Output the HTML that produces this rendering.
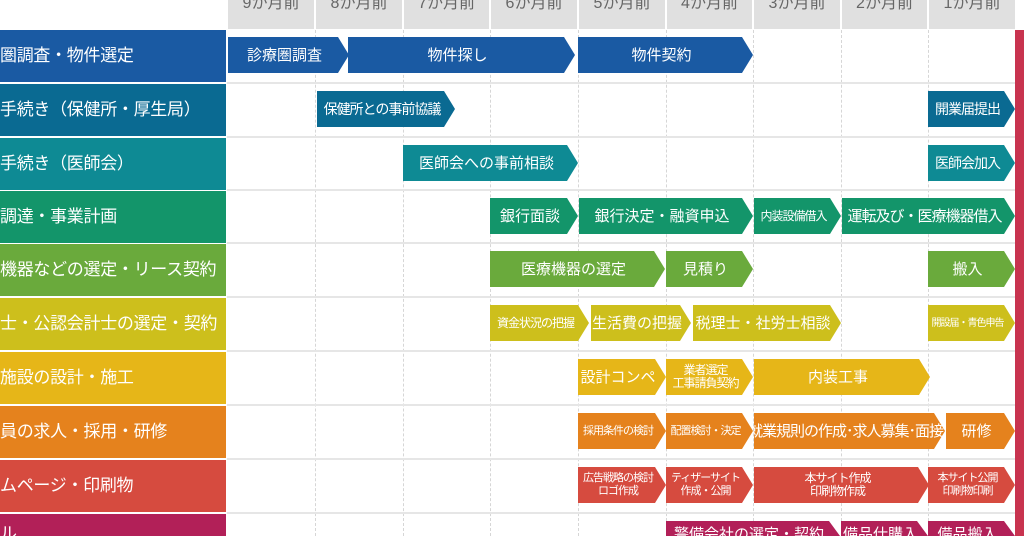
<!DOCTYPE html>
<html style="overflow:hidden;width:1024px;height:536px"><head><meta charset="utf-8"><style>
body{margin:0;width:1024px;height:536px;overflow:hidden;background:#fff;font-family:"Liberation Sans","Noto Sans CJK JP",sans-serif;position:relative}
.h{position:absolute;top:0;height:29px;background:#e0e0e0;color:#666;font-size:16px;text-align:center;line-height:8px}
.vl{position:absolute;top:30px;height:506px;width:0;border-left:1px dashed #d6d6d6}
.hl{position:absolute;left:227px;right:0;height:0;border-top:2px solid #e6e6e6}
.lab{position:absolute;left:0;width:226px;height:52px;color:#fff;font-size:17px;line-height:52px;white-space:nowrap;overflow:hidden;letter-spacing:-0.3px}
.b{position:absolute;height:36px;color:#fff;font-size:15px;display:flex;align-items:center;justify-content:center;text-align:center;line-height:15px;white-space:nowrap;overflow:hidden;clip-path:polygon(0 0,calc(100% - 11px) 0,100% 50%,calc(100% - 11px) 100%,0 100%);padding-right:8px;box-sizing:border-box}
.s{font-size:12px;line-height:13px;letter-spacing:-1px}
.t{letter-spacing:-1px}
</style></head><body>
<div class="h" style="left:228px;width:86px">9か月前</div>
<div class="h" style="left:316px;width:86px">8か月前</div>
<div class="h" style="left:404px;width:85px">7か月前</div>
<div class="h" style="left:491px;width:86px">6か月前</div>
<div class="h" style="left:579px;width:86px">5か月前</div>
<div class="h" style="left:667px;width:85px">4か月前</div>
<div class="h" style="left:754px;width:86px">3か月前</div>
<div class="h" style="left:842px;width:85px">2か月前</div>
<div class="h" style="left:929px;width:86px">1か月前</div>
<div class="vl" style="left:315px"></div><div class="vl" style="left:403px"></div><div class="vl" style="left:490px"></div><div class="vl" style="left:578px"></div><div class="vl" style="left:666px"></div><div class="vl" style="left:753px"></div><div class="vl" style="left:841px"></div><div class="vl" style="left:928px"></div>
<div class="hl" style="top:82px"></div><div class="hl" style="top:136px"></div><div class="hl" style="top:189px"></div><div class="hl" style="top:242px"></div><div class="hl" style="top:296px"></div><div class="hl" style="top:350px"></div><div class="hl" style="top:404px"></div><div class="hl" style="top:458px"></div><div class="hl" style="top:512px"></div>
<div style="position:absolute;left:1015px;top:30px;width:9px;height:506px;background:#c8334f"></div>

<div class="lab" style="top:30px;background:#1a5aa3">圏調査・物件選定</div>
<div class="lab" style="top:84px;background:#0a6a92">手続き（保健所・厚生局）</div>
<div class="lab" style="top:138px;background:#0e8a94">手続き（医師会）</div>
<div class="lab" style="top:191px;background:#13956a">調達・事業計画</div>
<div class="lab" style="top:244px;background:#6aaa3c">機器などの選定・リース契約</div>
<div class="lab" style="top:298px;background:#cdbf1c">士・公認会計士の選定・契約</div>
<div class="lab" style="top:352px;background:#e6b618">施設の設計・施工</div>
<div class="lab" style="top:406px;background:#e5821d">員の求人・採用・研修</div>
<div class="lab" style="top:460px;background:#d64b3f">ムページ・印刷物</div>
<div class="lab" style="top:514px;height:22px;line-height:40px;background:#b22058">ル</div>

<div class="b" style="top:37px;left:228px;width:121px;background:#1a5aa3">診療圏調査</div>
<div class="b" style="top:37px;left:348px;width:227px;background:#1a5aa3">物件探し</div>
<div class="b" style="top:37px;left:578px;width:175px;background:#1a5aa3">物件契約</div>

<div class="b t" style="top:91px;left:317px;width:138px;font-size:14px;background:#0a6a92">保健所との事前協議</div>
<div class="b t" style="top:91px;left:928px;width:87px;font-size:14px;background:#0a6a92">開業届提出</div>

<div class="b" style="top:145px;left:403px;width:175px;background:#0e8a94">医師会への事前相談</div>
<div class="b t" style="top:145px;left:928px;width:87px;font-size:14px;background:#0e8a94">医師会加入</div>

<div class="b" style="top:198px;left:490px;width:88px;background:#13956a">銀行面談</div>
<div class="b" style="top:198px;left:579px;width:174px;background:#13956a">銀行決定・融資申込</div>
<div class="b s" style="top:198px;left:754px;width:87px;background:#13956a">内装設備借入</div>
<div class="b t" style="top:198px;left:842px;width:173px;background:#13956a">運転及び・医療機器借入</div>

<div class="b" style="top:251px;left:490px;width:175px;background:#6aaa3c">医療機器の選定</div>
<div class="b" style="top:251px;left:666px;width:87px;background:#6aaa3c">見積り</div>
<div class="b" style="top:251px;left:928px;width:87px;background:#6aaa3c">搬入</div>

<div class="b s" style="top:305px;left:490px;width:99px;background:#cdbf1c">資金状況の把握</div>
<div class="b" style="top:305px;left:591px;width:100px;background:#cdbf1c">生活費の把握</div>
<div class="b" style="top:305px;left:693px;width:148px;background:#cdbf1c">税理士・社労士相談</div>
<div class="b s" style="top:305px;left:928px;width:87px;font-size:10px;background:#cdbf1c">開設届・青色申告</div>

<div class="b" style="top:359px;left:578px;width:88px;background:#e6b618">設計コンペ</div>
<div class="b s" style="top:359px;left:666px;width:87px;background:#e6b618">業者選定<br>工事請負契約</div>
<div class="b" style="top:359px;left:754px;width:176px;background:#e6b618">内装工事</div>

<div class="b s" style="top:413px;left:578px;width:88px;font-size:11px;background:#e5821d">採用条件の検討</div>
<div class="b s" style="top:413px;left:666px;width:87px;font-size:11px;background:#e5821d">配置検討・決定</div>
<div class="b t" style="top:413px;left:754px;width:191px;background:#e5821d">就業規則の作成･求人募集･面接</div>
<div class="b" style="top:413px;left:946px;width:69px;background:#e5821d">研修</div>

<div class="b s" style="top:467px;left:578px;width:88px;font-size:11px;background:#d64b3f">広告戦略の検討<br>ロゴ作成</div>
<div class="b s" style="top:467px;left:666px;width:87px;font-size:11px;background:#d64b3f">ティザーサイト<br>作成・公開</div>
<div class="b s" style="top:467px;left:754px;width:175px;background:#d64b3f">本サイト作成<br>印刷物作成</div>
<div class="b s" style="top:467px;left:928px;width:87px;font-size:11px;background:#d64b3f">本サイト公開<br>印刷物印刷</div>

<div class="b" style="top:521px;left:666px;width:174px;height:15px;clip-path:polygon(0 0,calc(100% - 11px) 0,100% 100%,0 100%);background:#b22058;align-items:flex-start;padding-top:6px">警備会社の選定・契約</div>
<div class="b" style="top:521px;left:841px;width:87px;height:15px;clip-path:polygon(0 0,calc(100% - 11px) 0,100% 100%,0 100%);background:#b22058;align-items:flex-start;padding-top:6px">備品仕購入</div>
<div class="b" style="top:521px;left:928px;width:87px;height:15px;clip-path:polygon(0 0,calc(100% - 11px) 0,100% 100%,0 100%);background:#b22058;align-items:flex-start;padding-top:6px">備品搬入</div>
</body></html>
